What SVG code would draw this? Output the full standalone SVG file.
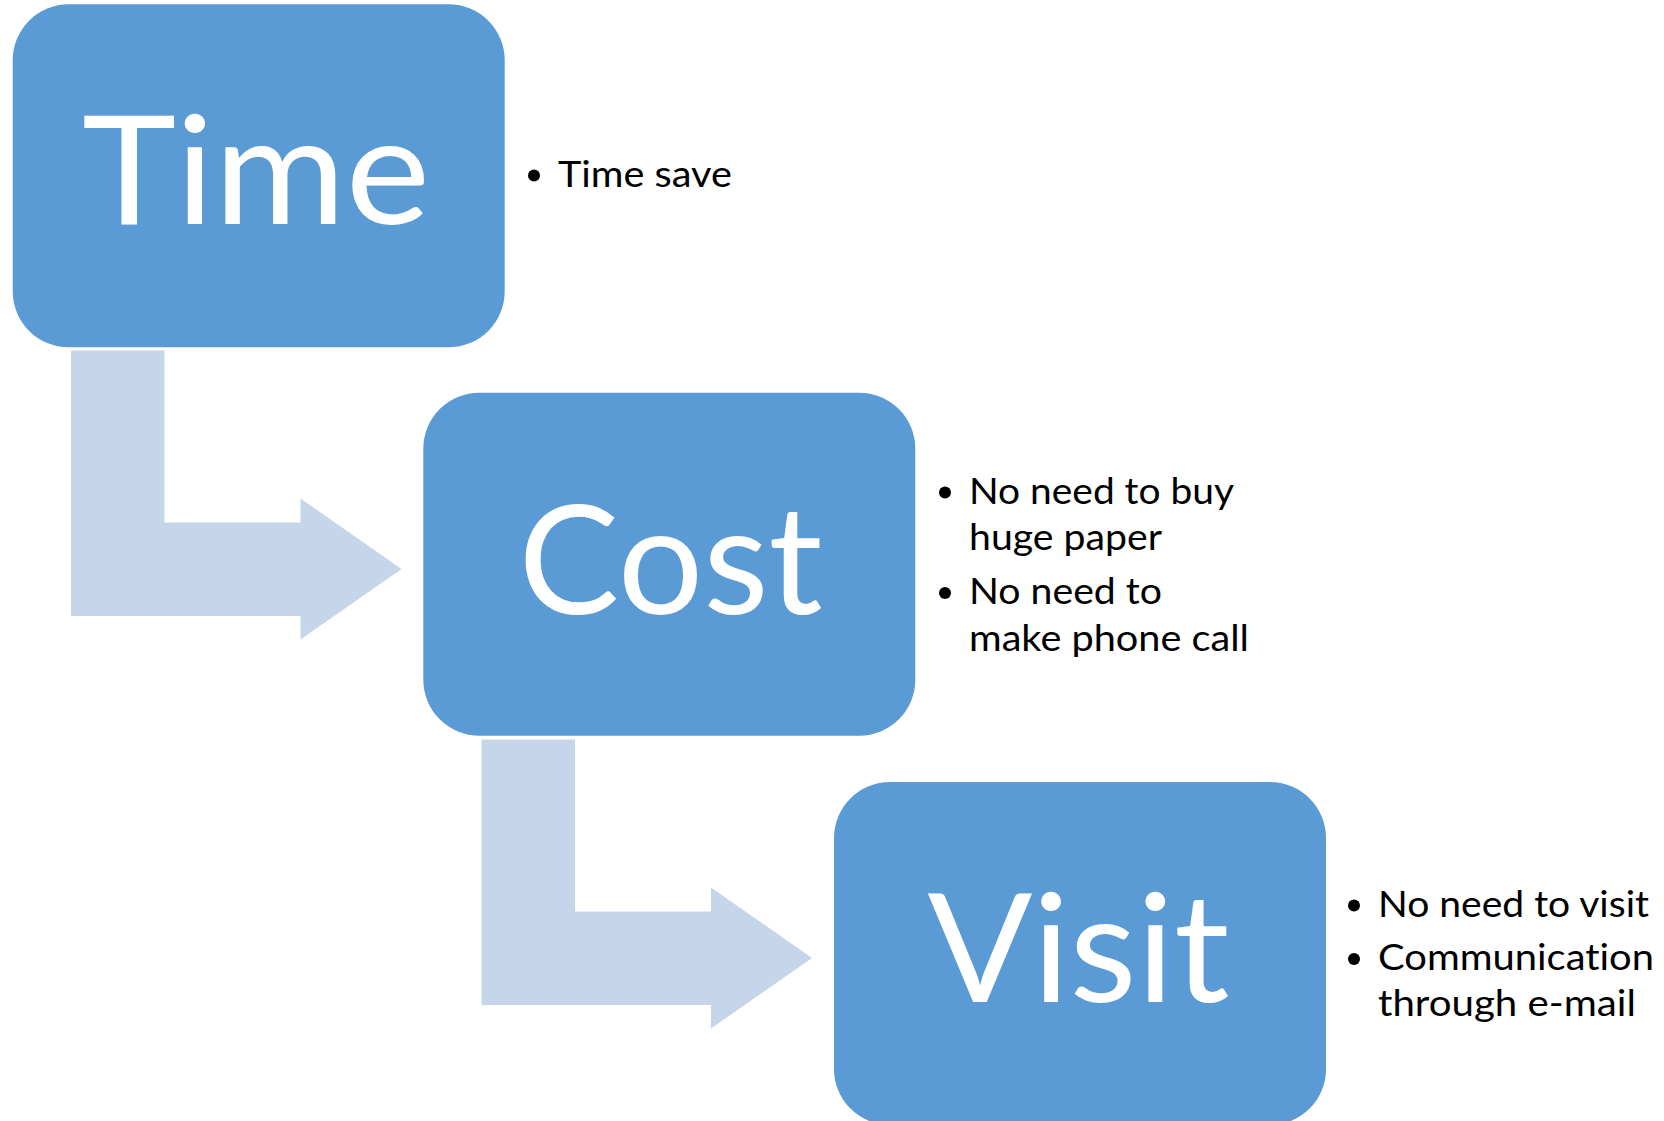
<svg xmlns="http://www.w3.org/2000/svg" width="1664" height="1121" viewBox="0 0 1664 1121">
  <style>
    .box { fill: #5B9BD5; }
    .arrow { fill: #C5D5EA; }
    .big { font-family: Lato, "Open Sans", "Liberation Sans", sans-serif; font-size: 152px; fill: #FFFFFF; text-anchor: middle; font-variant-ligatures: none; }
    .item { font-family: Lato, "Open Sans", "Liberation Sans", sans-serif; font-size: 36.5px; fill: #000000; font-variant-ligatures: none; }
    .dot { fill: #000000; }
  </style>
  <rect width="1664" height="1121" fill="#FFFFFF"/>
  <g id="connectors">
    <polygon class="arrow" points="71,350.5 164.5,350.5 164.5,522.5 300.5,522.5 300.5,498.5 401.5,569 300.5,639.5 300.5,616 71,616"/>
    <polygon class="arrow" points="481.5,739.5 575,739.5 575,911.5 711,911.5 711,887.5 812,958 711,1028.5 711,1005 481.5,1005"/>
  </g>
  <g id="node-time">
    <rect class="box" x="12.7" y="4.3" width="492" height="343" rx="56" ry="56"/>
    <text class="big" x="256" y="224" textLength="348" lengthAdjust="spacingAndGlyphs">Time</text>
  </g>
  <g id="notes-time">
    <circle class="dot" cx="534" cy="175.5" r="6"/>
    <text class="item" x="558" y="187" textLength="174" lengthAdjust="spacingAndGlyphs">Time save</text>
  </g>
  <g id="node-cost">
    <rect class="box" x="423.3" y="392.7" width="492" height="343" rx="56" ry="56"/>
    <text class="big" x="670.5" y="614" textLength="304" lengthAdjust="spacingAndGlyphs">Cost</text>
  </g>
  <g id="notes-cost">
    <circle class="dot" cx="945" cy="492.5" r="6"/>
    <text class="item" x="969" y="503.5" textLength="265" lengthAdjust="spacingAndGlyphs">No need to buy</text>
    <text class="item" x="969" y="549.5" textLength="193" lengthAdjust="spacingAndGlyphs">huge paper</text>
    <circle class="dot" cx="945" cy="593" r="6"/>
    <text class="item" x="969" y="604" textLength="193" lengthAdjust="spacingAndGlyphs">No need to</text>
    <text class="item" x="969" y="650.5" textLength="280" lengthAdjust="spacingAndGlyphs">make phone call</text>
  </g>
  <g id="node-visit">
    <rect class="box" x="834" y="782" width="492" height="343" rx="56" ry="56"/>
    <text class="big" x="1078.5" y="1002" textLength="302" lengthAdjust="spacingAndGlyphs">Visit</text>
  </g>
  <g id="notes-visit">
    <circle class="dot" cx="1354" cy="905.5" r="6"/>
    <text class="item" x="1378" y="916.5" textLength="271" lengthAdjust="spacingAndGlyphs">No need to visit</text>
    <circle class="dot" cx="1354" cy="959" r="6"/>
    <text class="item" x="1378" y="970" textLength="276" lengthAdjust="spacingAndGlyphs">Communication</text>
    <text class="item" x="1378" y="1016" textLength="258" lengthAdjust="spacingAndGlyphs">through e-mail</text>
  </g>
</svg>
